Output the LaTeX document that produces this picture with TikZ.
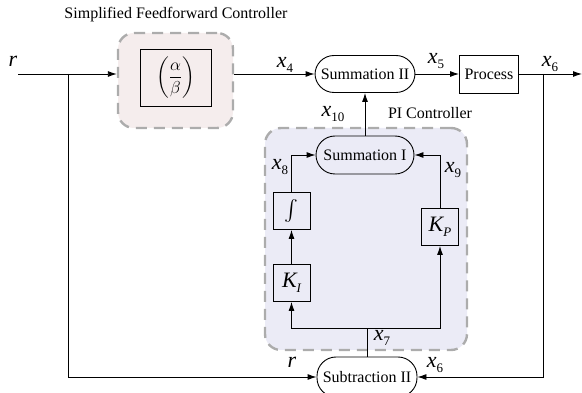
\documentclass[tikz,border=0pt]{standalone}
\usepackage{fontspec}
\setmainfont{Liberation Serif}
\usepackage{amsmath}
\usetikzlibrary{arrows.meta}
\definecolor{ffpink}{RGB}{245,237,237}
\definecolor{pilav}{RGB}{235,235,246}
\definecolor{dashgray}{RGB}{172,172,172}
% italic variable with a lowered index
\newcommand{\sigvar}[2]{{\itshape #1}\raisebox{-0.45ex}{\fontsize{13}{13}\selectfont #2}}

\begin{document}
\begin{tikzpicture}[x=1pt,y=-1pt,
  font=\fontsize{16}{19}\selectfont,
  blk/.style={draw,line width=0.9pt,inner sep=0pt},
  pill/.style={draw,line width=0.9pt,rounded corners=19pt,minimum width=100pt,minimum height=37pt,inner sep=0pt},
  sig/.style={line width=0.9pt},
  tip/.style={-{Latex[length=9pt,width=6pt]}},
  region/.style={draw=dashgray,line width=2.4pt,dash pattern=on 11pt off 7pt,rounded corners=16pt,inner sep=0pt},
  lbl/.style={font=\fontsize{22}{24}\selectfont,inner sep=0pt}]
\useasboundingbox (0,0) rectangle (582,393);
% shaded controller regions
\node[region,fill=ffpink,minimum width=115pt,minimum height=95pt] (ffbox) at (175.5,80.5) {};
\node[region,fill=pilav,minimum width=202pt,minimum height=222pt] (pibox) at (366,239) {};
\node (fftitle) at (176,15) {Simplified Feedforward Controller};
\node (pititle) at (430,113) {PI Controller};
% blocks
\node[blk,minimum width=71pt,minimum height=57pt,font=\fontsize{18}{21}\selectfont] (ff) at (175.5,77.5) {$\left(\dfrac{\alpha}{\beta}\right)$};
\node[pill] (sum2) at (365,74) {Summation II};
\node[blk,minimum width=59pt,minimum height=38pt] (proc) at (489,74) {Process};
\node[pill,minimum width=98pt,minimum height=38pt] (sum1) at (365,155) {Summation I};
\node[blk,minimum size=37pt,font=\fontsize{20}{22}\selectfont] (integ) at (291.5,211) {$\int$};
\node[blk,minimum size=37pt,lbl] (ki) at (291.5,283) {\sigvar{K}{\itshape I}};
\node[blk,minimum size=37pt,lbl] (kp) at (440,227) {\sigvar{K}{\itshape P}};
\node[pill,minimum height=40pt] (sub2) at (367,377) {Subtraction II};
% signal points
\coordinate (rin) at (18,74);
\coordinate (jr) at (68,74);
\coordinate (j6) at (543,74);
\coordinate (yout) at (582,74);
\coordinate (br) at (367,328);
% forward path
\draw[sig,tip] (rin) -- (rin -| ffbox.west);
\draw[sig,tip] (rin -| ffbox.east) -- (sum2.west);
\draw[sig,tip] (sum2) -- (proc);
\draw[sig,tip] (proc) -- (yout);
\draw[sig,tip] (sum1) -- (sum2);
% PI branches
\draw[sig] (sub2.north) -- (br);
\draw[sig,tip] (br) -| (ki.south);
\draw[sig,tip] (br) -| (kp.south);
\draw[sig,tip] (ki) -- (integ);
\draw[sig,tip] (integ.north) |- (sum1.west);
\draw[sig,tip] (kp.north) |- (sum1.east);
% feedback to subtraction
\draw[sig,tip] (jr) |- (sub2.west);
\draw[sig,tip] (j6) |- (sub2.east);
% signal labels
\node[lbl] (lr) at (13,61) {\itshape r};
\node[lbl] (lx4) at (285,65) {\sigvar{x}{4}};
\node[lbl] (lx5) at (436,61) {\sigvar{x}{5}};
\node[lbl] (lx6) at (550,64) {\sigvar{x}{6}};
\node[lbl] (lx10) at (333,114) {\sigvar{x}{10}};
\node[lbl] (lx8) at (280,167) {\sigvar{x}{8}};
\node[lbl] (lx9) at (453,170) {\sigvar{x}{9}};
\node[lbl] (lx7) at (382,338) {\sigvar{x}{7}};
\node[lbl] (lr2) at (292,362) {\itshape r};
\node[lbl] (lx6b) at (435,365) {\sigvar{x}{6}};
\end{tikzpicture}
\end{document}
